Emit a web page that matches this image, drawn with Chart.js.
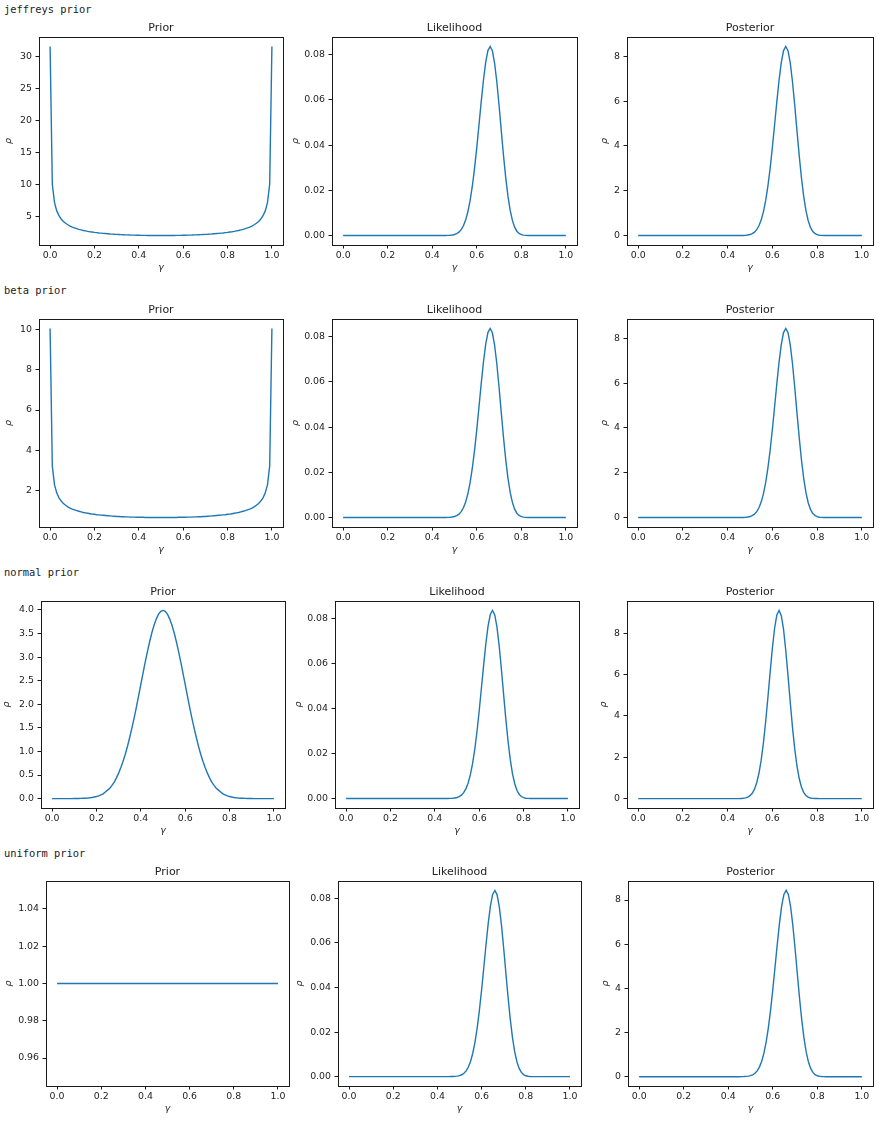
<!DOCTYPE html>
<html>
<head>
<meta charset="utf-8">
<title>Prior, likelihood, posterior</title>
<script src="https://cdn.jsdelivr.net/npm/chart.js@4.4.0/dist/chart.umd.min.js"></script>
<style>
    body { margin: 0; background: #fff; }
    #page { position: relative; width: 879px; height: 1121px; overflow: hidden; background: #fff; }
    .row-label { position: absolute; left: 4px; font-family: "DejaVu Sans Mono", monospace; font-size: 10.4px; line-height: 12px; color: #1c1c1c; white-space: pre; }
    canvas { position: absolute; }
</style>
</head>
<body>
<div id="page"></div>
<script>
// gamma grid, shared by every curve
const gamma = [0, 0.01, 0.02, 0.03, 0.04, 0.05, 0.06, 0.07, 0.08, 0.09,
    0.1, 0.11, 0.12, 0.13, 0.14, 0.15, 0.16, 0.17, 0.18, 0.19,
    0.2, 0.21, 0.22, 0.23, 0.24, 0.25, 0.26, 0.27, 0.28, 0.29,
    0.3, 0.31, 0.32, 0.33, 0.34, 0.35, 0.36, 0.37, 0.38, 0.39,
    0.4, 0.41, 0.42, 0.43, 0.44, 0.45, 0.46, 0.47, 0.48, 0.49,
    0.5, 0.51, 0.52, 0.53, 0.54, 0.55, 0.56, 0.57, 0.58, 0.59,
    0.6, 0.61, 0.62, 0.63, 0.64, 0.65, 0.66, 0.67, 0.68, 0.69,
    0.7, 0.71, 0.72, 0.73, 0.74, 0.75, 0.76, 0.77, 0.78, 0.79,
    0.8, 0.81, 0.82, 0.83, 0.84, 0.85, 0.86, 0.87, 0.88, 0.89,
    0.9, 0.91, 0.92, 0.93, 0.94, 0.95, 0.96, 0.97, 0.98, 0.99, 1];

// priors
const jeffreysPrior = [31.62, 10.05, 7.14, 5.86, 5.10, 4.59, 4.21, 3.92, 3.69, 3.49,
    3.33, 3.20, 3.08, 2.97, 2.88, 2.80, 2.73, 2.66, 2.60, 2.55,
    2.50, 2.46, 2.41, 2.38, 2.34, 2.31, 2.28, 2.25, 2.23, 2.20,
    2.18, 2.16, 2.14, 2.13, 2.11, 2.10, 2.08, 2.07, 2.06, 2.05,
    2.04, 2.03, 2.03, 2.02, 2.01, 2.01, 2.01, 2.00, 2.00, 2.00,
    2.00, 2.00, 2.00, 2.00, 2.01, 2.01, 2.01, 2.02, 2.03, 2.03,
    2.04, 2.05, 2.06, 2.07, 2.08, 2.10, 2.11, 2.13, 2.14, 2.16,
    2.18, 2.20, 2.23, 2.25, 2.28, 2.31, 2.34, 2.38, 2.41, 2.46,
    2.50, 2.55, 2.60, 2.66, 2.73, 2.80, 2.88, 2.97, 3.08, 3.20,
    3.33, 3.49, 3.69, 3.92, 4.21, 4.59, 5.10, 5.86, 7.14, 10.05, 31.62];

const betaPrior = [10.07, 3.20, 2.27, 1.87, 1.62, 1.46, 1.34, 1.25, 1.17, 1.11,
    1.06, 1.02, 0.98, 0.95, 0.92, 0.89, 0.87, 0.85, 0.83, 0.81,
    0.80, 0.78, 0.77, 0.76, 0.75, 0.74, 0.73, 0.72, 0.71, 0.70,
    0.69, 0.69, 0.68, 0.68, 0.67, 0.67, 0.66, 0.66, 0.66, 0.65,
    0.65, 0.65, 0.65, 0.64, 0.64, 0.64, 0.64, 0.64, 0.64, 0.64,
    0.64, 0.64, 0.64, 0.64, 0.64, 0.64, 0.64, 0.64, 0.65, 0.65,
    0.65, 0.65, 0.66, 0.66, 0.66, 0.67, 0.67, 0.68, 0.68, 0.69,
    0.69, 0.70, 0.71, 0.72, 0.73, 0.74, 0.75, 0.76, 0.77, 0.78,
    0.80, 0.81, 0.83, 0.85, 0.87, 0.89, 0.92, 0.95, 0.98, 1.02,
    1.06, 1.11, 1.17, 1.25, 1.34, 1.46, 1.62, 1.87, 2.27, 3.20, 10.07];

const normalPrior = [0, 0, 0, 0, 0, 0, 0, 0, 0, 0,
    0.0013, 0.002, 0.0029, 0.0042, 0.0061, 0.0087, 0.012, 0.017, 0.024, 0.033,
    0.044, 0.059, 0.079, 0.10, 0.14, 0.18, 0.22, 0.28, 0.35, 0.44,
    0.54, 0.66, 0.79, 0.94, 1.11, 1.30, 1.50, 1.71, 1.94, 2.18,
    2.42, 2.66, 2.90, 3.12, 3.33, 3.52, 3.68, 3.81, 3.91, 3.97,
    3.99, 3.97, 3.91, 3.81, 3.68, 3.52, 3.33, 3.12, 2.90, 2.66,
    2.42, 2.18, 1.94, 1.71, 1.50, 1.30, 1.11, 0.94, 0.79, 0.66,
    0.54, 0.44, 0.35, 0.28, 0.22, 0.18, 0.14, 0.10, 0.079, 0.059,
    0.044, 0.033, 0.024, 0.017, 0.012, 0.0087, 0.0061, 0.0042, 0.0029, 0.002,
    0.0013, 0, 0, 0, 0, 0, 0, 0, 0, 0, 0];

const uniformPrior = [1, 1, 1, 1, 1, 1, 1, 1, 1, 1,
    1, 1, 1, 1, 1, 1, 1, 1, 1, 1,
    1, 1, 1, 1, 1, 1, 1, 1, 1, 1,
    1, 1, 1, 1, 1, 1, 1, 1, 1, 1,
    1, 1, 1, 1, 1, 1, 1, 1, 1, 1,
    1, 1, 1, 1, 1, 1, 1, 1, 1, 1,
    1, 1, 1, 1, 1, 1, 1, 1, 1, 1,
    1, 1, 1, 1, 1, 1, 1, 1, 1, 1,
    1, 1, 1, 1, 1, 1, 1, 1, 1, 1,
    1, 1, 1, 1, 1, 1, 1, 1, 1, 1, 1];

// likelihood (same in every row)
const likelihood = [0, 0, 0, 0, 0, 0, 0, 0, 0, 0,
    0, 0, 0, 0, 0, 0, 0, 0, 0, 0,
    0, 0, 0, 0, 0, 0, 0, 0, 0, 0,
    0, 0, 0, 0, 0, 0, 0, 0, 0, 0,
    0, 0, 0, 0, 0, 0, 0.00003, 0.00006, 0.00012, 0.00024,
    0.00046, 0.00084, 0.0015, 0.0026, 0.0043, 0.0068, 0.0105, 0.0154, 0.0218, 0.0297,
    0.0389, 0.0490, 0.0592, 0.0688, 0.0766, 0.0818, 0.0836, 0.0817, 0.0763, 0.0680,
    0.0576, 0.0464, 0.0354, 0.0256, 0.0174, 0.0111, 0.0067, 0.0037, 0.0019, 0.00091,
    0.0004, 0.00016, 0.00006, 0, 0, 0, 0, 0, 0, 0,
    0, 0, 0, 0, 0, 0, 0, 0, 0, 0, 0];

// posteriors: jeffreys, beta and uniform priors all give this curve
const posteriorFlat = [0, 0, 0, 0, 0, 0, 0, 0, 0, 0,
    0, 0, 0, 0, 0, 0, 0, 0, 0, 0,
    0, 0, 0, 0, 0, 0, 0, 0, 0, 0,
    0, 0, 0, 0, 0, 0, 0, 0, 0, 0,
    0, 0, 0, 0, 0, 0, 0.002, 0.005, 0.012, 0.024,
    0.046, 0.085, 0.153, 0.262, 0.435, 0.690, 1.057, 1.556, 2.202, 3.000,
    3.928, 4.944, 5.979, 6.942, 7.733, 8.256, 8.44, 8.253, 7.707, 6.863,
    5.818, 4.685, 3.577, 2.582, 1.756, 1.123, 0.672, 0.375, 0.193, 0.092,
    0.040, 0.016, 0.006, 0.002, 0, 0, 0, 0, 0, 0,
    0, 0, 0, 0, 0, 0, 0, 0, 0, 0, 0];

const posteriorNormal = [0, 0, 0, 0, 0, 0, 0, 0, 0, 0,
    0, 0, 0, 0, 0, 0, 0, 0, 0, 0,
    0, 0, 0, 0, 0, 0, 0, 0, 0, 0,
    0, 0, 0, 0, 0, 0, 0, 0, 0, 0,
    0, 0, 0, 0, 0, 0, 0.007, 0.016, 0.035, 0.072,
    0.140, 0.259, 0.457, 0.766, 1.224, 1.859, 2.692, 3.716, 4.877, 6.104,
    7.268, 8.236, 8.883, 9.098, 8.847, 8.178, 7.158, 5.934, 4.655, 3.444,
    2.401, 1.577, 0.970, 0.559, 0.300, 0.150, 0.070, 0.030, 0.012, 0.004,
    0.001, 0, 0, 0, 0, 0, 0, 0, 0, 0,
    0, 0, 0, 0, 0, 0, 0, 0, 0, 0, 0];

// tick values
const gammaTicks = [0, 0.2, 0.4, 0.6, 0.8, 1.0];
const ticksJeffreys = [5, 10, 15, 20, 25, 30];
const ticksBeta = [2, 4, 6, 8, 10];
const ticksNormal = [0, 0.5, 1, 1.5, 2, 2.5, 3, 3.5, 4];
const ticksUniform = [0.96, 0.98, 1.00, 1.02, 1.04];
const ticksLikelihood = [0, 0.02, 0.04, 0.06, 0.08];
const ticksPosterior = [0, 2, 4, 6, 8];

const rowLabels = ["jeffreys prior", "beta prior", "normal prior", "uniform prior"];
const panelTitles = ["Prior", "Likelihood", "Posterior"];

// layout of each row: label position and the axes box [left, top, right, bottom] of each panel
const rows = [
    { labelTop: 3, panels: [
        { values: jeffreysPrior, ticks: ticksJeffreys, decimals: 0, yMin: 0.52, yMax: 33.1, box: [39, 37, 283, 245], rho: 30 },
        { values: likelihood, ticks: ticksLikelihood, decimals: 2, yMin: -0.0042, yMax: 0.0878, box: [332, 37, 577, 245], rho: 36 },
        { values: posteriorFlat, ticks: ticksPosterior, decimals: 0, yMin: -0.422, yMax: 8.862, box: [627, 37, 873, 245], rho: 22 },
    ]},
    { labelTop: 284, panels: [
        { values: betaPrior, ticks: ticksBeta, decimals: 0, yMin: 0.166, yMax: 10.54, box: [39, 319, 283, 527], rho: 30 },
        { values: likelihood, ticks: ticksLikelihood, decimals: 2, yMin: -0.0042, yMax: 0.0878, box: [332, 319, 577, 527], rho: 36 },
        { values: posteriorFlat, ticks: ticksPosterior, decimals: 0, yMin: -0.422, yMax: 8.862, box: [627, 319, 873, 527], rho: 22 },
    ]},
    { labelTop: 566, panels: [
        { values: normalPrior, ticks: ticksNormal, decimals: 1, yMin: -0.1995, yMax: 4.189, box: [41, 601, 285, 808], rho: 34 },
        { values: likelihood, ticks: ticksLikelihood, decimals: 2, yMin: -0.0042, yMax: 0.0878, box: [335, 601, 579, 808], rho: 36 },
        { values: posteriorNormal, ticks: ticksPosterior, decimals: 0, yMin: -0.455, yMax: 9.553, box: [627, 601, 873, 808], rho: 23 },
    ]},
    { labelTop: 847, panels: [
        { values: uniformPrior, ticks: ticksUniform, decimals: 2, yMin: 0.945, yMax: 1.055, box: [46, 881, 289, 1086], rho: 37 },
        { values: likelihood, ticks: ticksLikelihood, decimals: 2, yMin: -0.0042, yMax: 0.0878, box: [338, 881, 581, 1086], rho: 38 },
        { values: posteriorFlat, ticks: ticksPosterior, decimals: 0, yMin: -0.422, yMax: 8.862, box: [628, 881, 873, 1086], rho: 22 },
    ]},
];

// margins of each canvas around its axes box
const marginLeft = 45, marginTop = 25, marginRight = 8, marginBottom = 35;
const tickFont = { family: "DejaVu Sans", size: 9.4 };
const labelFont = { family: "DejaVu Sans", size: 9.4, style: "italic" };
const textColor = "#222";

// draws the four spines around the plotting area
const boxPlugin = {
    id: "box",
    afterDraw(chart) {
        const { ctx, chartArea: a } = chart;
        ctx.save();
        ctx.strokeStyle = "#1a1a1a";
        ctx.lineWidth = 1;
        ctx.strokeRect(a.left + 0.5, a.top + 0.5, a.right - a.left, a.bottom - a.top);
        ctx.restore();
    }
};

const page = document.querySelector("#page");

function makePanel(panel, title) {
    const [left, top, right, bottom] = panel.box;
    const canvas = document.createElement("canvas");
    canvas.width = right - left + marginLeft + marginRight;
    canvas.height = bottom - top + marginTop + marginBottom;
    canvas.style.left = (left - marginLeft) + "px";
    canvas.style.top = (top - marginTop) + "px";
    page.appendChild(canvas);

    const data = {
        datasets: [{
            data: gamma.map((g, i) => ({ x: g, y: panel.values[i] })),
            borderColor: "#1f77b4",
            borderWidth: 1.4,
            pointRadius: 0,
            tension: 0,
            fill: false,
        }]
    };

    const config = {
        type: "line",
        data: data,
        options: {
            responsive: false,
            animation: false,
            events: [],
            layout: { padding: { top: 9.4, right: marginRight, left: 0, bottom: 0 } },
            plugins: {
                legend: { display: false },
                tooltip: { enabled: false },
                title: {
                    display: true,
                    text: title,
                    fullSize: false,
                    color: textColor,
                    font: { family: "DejaVu Sans", size: 11, weight: "normal", lineHeight: 1.2 },
                    padding: { top: 0, bottom: 2.4 },
                },
            },
            scales: {
                x: {
                    type: "linear",
                    min: -0.05,
                    max: 1.05,
                    afterBuildTicks: (axis) => { axis.ticks = gammaTicks.map(v => ({ value: v })); },
                    afterFit: (axis) => { axis.height = marginBottom; },
                    border: { display: false },
                    grid: { drawOnChartArea: false, drawTicks: true, tickLength: 3.5, tickColor: "#1a1a1a", tickWidth: 1 },
                    ticks: {
                        padding: 1.5,
                        color: textColor,
                        font: tickFont,
                        maxRotation: 0,
                        callback: (value) => value.toFixed(1),
                    },
                    title: { display: true, text: "γ", color: textColor, font: labelFont, padding: { top: 0, bottom: 7.1 } },
                },
                y: {
                    type: "linear",
                    min: panel.yMin,
                    max: panel.yMax,
                    afterBuildTicks: (axis) => { axis.ticks = panel.ticks.map(v => ({ value: v })); },
                    afterFit: (axis) => { axis.width = marginLeft; },
                    border: { display: false },
                    grid: { drawOnChartArea: false, drawTicks: true, tickLength: 3.5, tickColor: "#1a1a1a", tickWidth: 1 },
                    ticks: {
                        padding: 3.5,
                        color: textColor,
                        font: tickFont,
                        callback: (value) => value.toFixed(panel.decimals),
                    },
                    title: { display: true, text: "ρ", color: textColor, font: labelFont, padding: { top: marginLeft - panel.rho - 5.6, bottom: 0 } },
                },
            },
        },
        plugins: [boxPlugin],
    };

    new Chart(canvas, config);
}

rows.forEach((row, r) => {
    const label = document.createElement("div");
    label.className = "row-label";
    label.style.top = row.labelTop + "px";
    label.textContent = rowLabels[r];
    page.appendChild(label);

    row.panels.forEach((panel, p) => makePanel(panel, panelTitles[p]));
});
</script>
</body>
</html>
